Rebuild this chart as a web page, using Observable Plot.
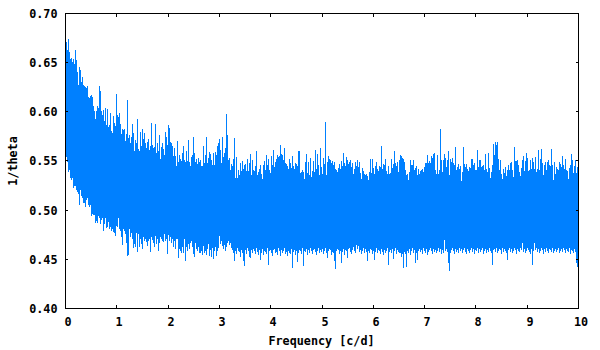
<!DOCTYPE html>
<html>
<head>
<meta charset="utf-8">
<style>html,body{margin:0;padding:0;background:#fff}svg{display:block}</style>
<script src="https://cdn.jsdelivr.net/npm/d3@7"></script>
<script src="https://cdn.jsdelivr.net/npm/@observablehq/plot@0.6"></script>
</head>
<body>
<script>
// Envelope of the periodogram, in thousandths of 1/theta.
const upperA = [
670,662,674,660,653,654,650,653,648,662,652,640,627,645,642,630,635,627,626,625,
624,626,615,614,616,617,615,605,600,592,600,605,603,626,621,600,596,601,590,603,
586,602,584,586,598,580,578,595,588,585,618,596,594,598,587,577,582,581,582,570,
577,612,573,576,568,574,587,578,560,571,568,592,562,560,579,565,582,572,578,568,
563,569,572,561,565,588,566,563,564,587,558,568,560,576,552,564,568,562,556,579,
574,566,586,583,569,568,565,555,563,555,544,570,548,556,552,549,558,565,551,548,
560,549,571,548,544,554,556,574,558,548,552,546,553,548];
const lowerA = [
554,548,538,540,532,530,532,522,524,524,520,518,516,505,520,514,512,507,507,503,
510,512,505,503,505,494,496,495,495,486,488,486,494,492,485,490,492,478,485,492,
481,482,487,480,482,478,480,477,476,473,483,482,492,480,478,472,464,480,478,475,
466,453,454,480,472,476,470,461,465,462,476,457,475,462,470,465,460,472,468,470,
467,463,468,470,457,472,469,466,462,473,465,470,458,466,472,470,468,467,475,468,
470,455,474,468,472,466,470,462,468,460,470,470,451,460,458,456,462,456,470,448,
462,458,465,460,466,468,462,455,452,466,460,458,462,456];
const upperB = [
551,544,544,565,547,556,574,547,553,559,557,551,545,558,545,559,556,565,568,572,
561,547,574,554,558,563,597,576,550,553,540,546,544,552,573,532,554,532,540,535,
547,539,549,541,545,546,539,552,539,547,557,535,550,540,539,544,560,535,538,541,
545,536,531,545,549,540,556,545,552,540,537,555,545,561,543,548,552,556,554,555,
566,557,556,551,563,547,546,544,541,552,547,542,555,544,541,547,546,544,560,560,
537,538,540,538,531,548,557,537,548,535,553,533,539,549,538,561,541,557,545,535,
563,543,536,553,546,589,535,548,555,552,550,547,549,545,548,541,540,538,542,546,
541,549,544,558,547,544,554,551,546,548,551,543,547,536,541,548,544,551,543,548,
537,531,542,539,536,535,536,534,530,538,552,537,552,542,536,544,548,541,539,544,
543,565,541,546,545,552,539,536,544,536,537,552,542,546,560,547,544,548,538,551];
const lowerB = [
456,458,454,463,456,458,454,460,465,453,459,452,461,450,458,462,453,458,461,473,
465,468,463,460,464,458,462,466,468,464,466,461,459,456,448,458,455,461,458,457,
452,459,456,448,443,459,455,461,458,452,451,459,456,460,458,455,461,457,454,459,
449,456,460,454,458,457,455,461,444,458,459,456,453,459,460,456,457,454,461,458,
453,459,456,458,461,455,457,453,458,456,455,460,441,457,459,454,458,447,456,459,
458,455,461,443,458,457,460,454,459,456,461,458,455,459,460,457,454,458,461,456,
459,457,460,455,458,461,456,451,458,460,459,454,457,456,448,440,458,460,459,455,
458,446,457,460,454,459,458,451,460,461,457,455,459,462,458,456,464,460,463,457,
459,455,458,461,456,460,457,448,458,456,460,459,455,458,449,457,461,456,459,458,
455,460,457,454,459,456,458,461,444,457,459,456,460,450,458,461,455,459,457,456];
const upperC = [
556,555,553,552,548,540,535,536,530,538,551,545,545,550,540,542,544,535,541,536,
539,540,541,538,543,547,547,556,547,549,547,555,553,557,558,540,536,556,536,540,
582,551,538,550,557,553,543,551,560,535,552,548,553,547,545,564,540,543,546,541,
544,529,538,564,546,543,546,541,539,543,542,552,552,545,547,540,540,561,543,550,
551,543,544,545,540,557,541,538,558,542,532,538,545,567,556,569,566,569,552,540,
551,536,531,541,537,543,534,540,545,540,547,548,540,533,564,549,549,550,545,538,
534,542,550,555,539,549,558,553,539,540,550,541,553,548,541,554,538,541,561,540,
552,562,547,535,545,548,540,548,551,545,544,562,545,530,548,536,543,541,540,548,
546,543,555,545,541,552,540,539,531,542,545,557,551,537,544,550,537,543,540];
const lowerC = [
456,452,455,441,457,455,442,458,456,460,454,458,461,456,459,446,456,449,458,460,
457,459,455,461,458,456,460,454,457,459,461,458,455,460,457,459,456,458,461,457,
460,455,459,456,469,458,460,457,446,438,456,459,461,458,455,460,457,459,456,461,
458,460,456,459,461,457,455,460,458,456,459,461,457,460,455,459,458,461,456,460,
457,459,461,455,458,460,456,459,457,461,458,456,444,459,460,457,461,456,458,460,
459,455,461,457,460,458,456,449,459,461,457,460,456,458,461,459,455,460,458,457,
461,459,466,457,460,456,458,461,459,457,455,460,444,458,466,459,461,457,460,456,
458,461,459,455,460,457,461,458,456,460,459,457,461,456,458,460,457,459,461,456,
458,460,457,461,459,456,460,458,457,461,455,459,458,456,460,457,446,442,441];

const upper = [...upperA, ...upperB, ...upperC];
const lower = [...lowerA, ...lowerB, ...lowerC];
const rows = upper.map((u, i) => ({f: (i + 1) * 10 / 513, hi: u / 1000, lo: lower[i] / 1000}));

const xTicks = [0,1,2,3,4,5,6,7,8,9,10];
const yTicks = [0.40,0.45,0.50,0.55,0.60,0.65,0.70];
const font = "'DejaVu Sans Mono', monospace";

const chart = Plot.plot({
  width: 600, height: 350,
  marginLeft: 65, marginRight: 22, marginTop: 13, marginBottom: 42,
  style: {fontFamily: font, fontSize: "11.75px", fontWeight: "bold", color: "#000", background: "#fff"},
  x: {domain: [0, 10], round: true},
  y: {domain: [0.40, 0.70], round: true},
  marks: [
    Plot.ruleX(rows, {x: "f", y1: "lo", y2: "hi", stroke: "#0080ff", strokeWidth: 1}),
    Plot.axisX({anchor: "bottom", ticks: xTicks, tickSize: 0, tickPadding: 8, dx: 2.5, dy: 1, tickFormat: d3.format("d"), label: null, fill: "#000"}),
    Plot.axisX({anchor: "bottom", ticks: xTicks, tickSize: -3, tickFormat: null, text: null, label: null, stroke: "#000"}),
    Plot.axisX({anchor: "top", ticks: xTicks, tickSize: -3, tickFormat: null, text: null, label: null, stroke: "#000"}),
    Plot.axisY({anchor: "left", ticks: yTicks, tickSize: 0, tickPadding: 8, dy: 1, tickFormat: d3.format(".2f"), label: null, fill: "#000"}),
    Plot.axisY({anchor: "left", ticks: yTicks, tickSize: -3, tickFormat: null, text: null, label: null, stroke: "#000"}),
    Plot.axisY({anchor: "right", ticks: yTicks, tickSize: -3, tickFormat: null, text: null, label: null, stroke: "#000"}),
    Plot.frame({stroke: "#000", strokeWidth: 1}),
    Plot.text(["Frequency [c/d]"], {frameAnchor: "bottom", dy: 33, dx: -0.5, fill: "#000", lineAnchor: "middle"}),
    Plot.text(["1/theta"], {frameAnchor: "left", textAnchor: "middle", dx: -52, rotate: -90, fill: "#000"})
  ]
});
document.body.appendChild(chart);
</script>
</body>
</html>
